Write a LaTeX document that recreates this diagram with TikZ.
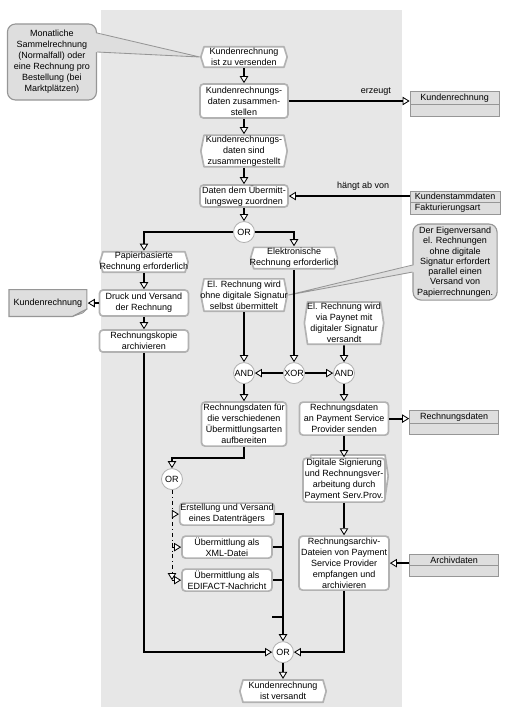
\documentclass[tikz,border=0pt]{standalone}
\usepackage{fontspec}
\setmainfont{Liberation Sans}
\usepackage{tikz}
\usetikzlibrary{shapes, arrows.meta, positioning}

\definecolor{bggray}{RGB}{231,231,231}
\definecolor{boxline}{RGB}{178,178,178}
\definecolor{notefill}{RGB}{222,222,222}
\definecolor{noteline}{RGB}{150,150,150}
\definecolor{folddark}{RGB}{196,196,196}

\begin{document}
\begin{tikzpicture}[x=0.025cm, y=-0.025cm]
	\tikzstyle{every node}=[font=\fontsize{6.4}{7.8}\selectfont, align=center]
	\tikzstyle{event}=[rectangle, inner xsep=0pt, inner ysep=1pt,
		minimum width=2.2cm, minimum height=0.55cm,
		path picture={
			\filldraw[fill=white, draw=boxline, line width=1.2pt, line join=round]
			([xshift=0.6pt]path picture bounding box.west)
			-- ([xshift=0.1cm, yshift=-0.6pt]path picture bounding box.north west)
			-- ([xshift=-0.1cm, yshift=-0.6pt]path picture bounding box.north east)
			-- ([xshift=-0.6pt]path picture bounding box.east)
			-- ([xshift=-0.1cm, yshift=0.6pt]path picture bounding box.south east)
			-- ([xshift=0.1cm, yshift=0.6pt]path picture bounding box.south west)
			-- cycle;
		}]
	\tikzstyle{func}=[rectangle, rounded corners=2.5pt, draw=boxline, line width=1.2pt,
		fill=white, inner sep=0.5pt, minimum width=2.2cm, minimum height=0.55cm]
	\tikzstyle{conn}=[circle, draw=boxline, line width=0.6pt, fill=white,
		inner sep=0pt, minimum size=0.525cm]
	\tikzstyle{info}=[rectangle split, rectangle split parts=2,
		rectangle split empty part height=0.5pt, draw=noteline, fill=notefill,
		line width=0.6pt, inner ysep=1.2pt, minimum width=2.225cm]
	\tikzstyle{note}=[rectangle, rounded corners=0.2cm, draw=noteline, fill=notefill,
		line width=0.8pt, inner sep=1pt, minimum width=2.225cm, minimum height=1.9cm]
	\tikzstyle{doc}=[rectangle, minimum width=1.975cm, minimum height=0.7cm,
		path picture={
			\filldraw[fill=notefill, draw=noteline, line width=0.8pt]
			([shift={(0.4pt,-0.4pt)}]path picture bounding box.north west)
			-- ([shift={(-0.4pt,-0.4pt)}]path picture bounding box.north east)
			-- ([shift={(-0.4pt,0.2cm)}]path picture bounding box.south east)
			-- ([shift={(-0.375cm,0.4pt)}]path picture bounding box.south east)
			-- ([shift={(0.4pt,0.4pt)}]path picture bounding box.south west)
			-- cycle;
			\filldraw[fill=folddark, draw=noteline, line width=0.5pt]
			([shift={(-0.4pt,0.2cm)}]path picture bounding box.south east)
			-- ([shift={(-0.375cm,0.4pt)}]path picture bounding box.south east)
			-- ([shift={(-0.12cm,0.1cm)}]path picture bounding box.south east)
			-- cycle;
		}]
	\tikzstyle{flow}=[draw, line width=1.3pt,
		-{Triangle[fill=white, length=5pt, width=6pt, line width=0.6pt]}]
	\tikzstyle{wire}=[draw, line width=1.3pt]
	\tikzstyle{branch}=[draw, line width=0.6pt, dash dot,
		-{Triangle[fill=white, length=5pt, width=6pt, line width=0.6pt]}]

	\useasboundingbox (0,0) rectangle (507,711);
	\fill[bggray] (101,10) rectangle (402,707);

	% main column
	\node[event] (start) at (244,57) {Kundenrechnung\\ist zu versenden};
	\node[note, left of=start, node distance=4.8cm, yshift=-0.125cm] (hinweisA) {
		Monatliche\\Sammelrechnung\\(Normalfall) oder\\eine Rechnung pro\\Bestellung (bei\\Marktplätzen)
	};
	\node[func, below of=start, node distance=1.1cm, minimum height=0.85cm] (daten) {
		Kundenrechnungs-\\daten zusammen-\\stellen
	};
	\node[info, right of=daten, node distance=5.2625cm, yshift=-0.075cm] (rechnungA) {
		\nodepart{one} Kundenrechnung
		\nodepart{two}
	};
	\node[event, below of=daten, node distance=1.25cm, minimum height=0.825cm] (fertig) {
		Kundenrechnungs-\\daten sind\\zusammengestellt
	};
	\node[func, below of=fertig, node distance=1.125cm] (zuordnen) {
		Daten dem Übermitt-\\lungsweg zuordnen
	};
	\node[info, rectangle split empty part height=6pt, rectangle split part align=left,
		right of=zuordnen, node distance=5.275cm, yshift=-0.175cm] (stamm) {
		\nodepart{one} Kundenstammdaten
		\nodepart{two} Fakturierungsart
	};
	\node[conn, below of=zuordnen, node distance=0.9cm] (or1) {OR};

	% papierbasiert
	\node[event, below of=or1, node distance=0.75cm, xshift=-2.5cm, minimum width=2.25cm] (papier) {
		Papierbasierte\\Rechnung erforderlich
	};
	\node[func, below of=papier, node distance=1.025cm, minimum width=2.225cm, minimum height=0.65cm] (druck) {
		Druck und Versand\\der Rechnung
	};
	\node[doc, left of=druck, node distance=2.4cm] (rechnungB) {Kundenrechnung};
	\node[func, below of=druck, node distance=0.95cm, minimum width=2.225cm] (kopie) {
		Rechnungskopie\\archivieren
	};

	% elektronisch
	\node[event, below of=or1, node distance=0.65cm, xshift=1.25cm, minimum width=2.15cm, minimum height=0.575cm] (elektr) {
		Elektronische\\Rechnung erforderlich
	};
	\node[note, right of=elektr, node distance=4.025cm, yshift=-0.1cm, minimum width=2.1cm,
		font=\fontsize{6.4}{7.3}\selectfont] (hinweisB) {
		Der Eigenversand\\el. Rechnungen\\ohne digitale\\Signatur erfordert\\parallel einen\\Versand von\\Papierrechnungen.
	};
	\node[event, below of=elektr, node distance=0.925cm, xshift=-1.25cm, minimum height=0.85cm] (ohne) {
		El. Rechnung wird\\ohne digitale Signatur\\selbst übermittelt
	};
	\node[event, below of=ohne, node distance=0.7cm, xshift=2.5cm, minimum width=2.025cm, minimum height=1.1cm] (paynet) {
		El. Rechnung wird\\via Paynet mit\\digitaler Signatur\\versandt
	};
	\node[conn, below of=elektr, node distance=2.875cm] (xor) {XOR};
	\node[conn, left of=xor, node distance=1.25cm] (andl) {AND};
	\node[conn, right of=xor, node distance=1.25cm] (andr) {AND};

	\node[func, below of=andl, node distance=1.275cm, minimum width=2.125cm, minimum height=1.1cm] (aufb) {
		Rechnungsdaten für\\die verschiedenen\\Übermittlungsarten\\aufbereiten
	};
	\node[func, below of=andr, node distance=1.1375cm, minimum width=2.225cm, minimum height=0.825cm] (senden) {
		Rechnungsdaten\\an Payment Service\\Provider senden
	};
	\node[info, right of=senden, node distance=2.75cm, yshift=-0.1cm] (daten2) {
		\nodepart{one} Rechnungsdaten
		\nodepart{two}
	};
	\node[event, below of=senden, node distance=1.5375cm, xshift=0.1cm, yshift=0.1cm,
		minimum width=2.05cm, minimum height=1.1cm] (pievent) {};
	\node[func, below of=pievent, node distance=0.1cm, xshift=-0.1cm,
		minimum width=2.05cm, minimum height=1.1cm] (pi) {
		Digitale Signierung\\und Rechnungsver-\\arbeitung durch\\Payment Serv.Prov.
	};
	\node[func, below of=pi, node distance=2.075cm, minimum width=2.25cm, minimum height=1.35cm] (archiv) {
		Rechnungsarchiv-\\Dateien von Payment\\Service Provider\\empfangen und\\archivieren
	};
	\node[info, right of=archiv, node distance=2.75cm, yshift=-0.0625cm] (archivdaten) {
		\nodepart{one} Archivdaten
		\nodepart{two}
	};

	% Übermittlungsarten
	\node[conn, below of=aufb, node distance=1.375cm, xshift=-1.8cm] (or2) {OR};
	\node[func, below of=or2, node distance=0.875cm, xshift=1.375cm, minimum width=2.25cm] (traeger) {
		Erstellung und Versand\\eines Datenträgers
	};
	\node[func, below of=traeger, node distance=0.825cm, minimum width=2.25cm] (xml) {
		Übermittlung als\\XML-Datei
	};
	\node[func, below of=xml, node distance=0.825cm, minimum width=2.25cm] (edifact) {
		Übermittlung als\\EDIFACT-Nachricht
	};
	\node[conn, below of=edifact, node distance=1.8cm, xshift=1.4cm] (or3) {OR};
	\node[event, below of=or3, node distance=0.975cm, minimum height=0.6cm] (ende) {
		Kundenrechnung\\ist versandt
	};

	% callouts
	\fill[notefill] ([shift={(-1.5pt,0.725cm)}]hinweisA.east) -- (start.west)
		-- ([shift={(-1.5pt,0.25cm)}]hinweisA.east) -- cycle;
	\draw[noteline, line width=0.6pt] ([yshift=0.725cm]hinweisA.east) -- (start.west)
		-- ([yshift=0.25cm]hinweisA.east);
	\fill[notefill] ([shift={(1.5pt,-0.075cm)}]hinweisB.west) -- (ohne.east)
		-- ([shift={(1.5pt,-0.25cm)}]hinweisB.west) -- cycle;
	\draw[noteline, line width=0.6pt] ([yshift=-0.075cm]hinweisB.west) -- (ohne.east)
		-- ([yshift=-0.25cm]hinweisB.west);

	% connectors
	\draw[flow] (start) -- (daten);
	\draw[flow] (daten.east) -- (daten.east -| rechnungA.west) node[pos=0.72, above] {erzeugt};
	\draw[flow] (daten) -- (fertig);
	\draw[flow] (fertig) -- (zuordnen);
	\draw[flow] (stamm.west |- zuordnen.east) -- (zuordnen.east) node[pos=0.385, above] {hängt ab von};
	\draw[flow] (zuordnen) -- (or1);
	\draw[flow] (or1.west) -| (papier.north);
	\draw[flow] (or1.east) -| (elektr.north);
	\draw[flow] (papier) -- (druck);
	\draw[flow] (druck) -- (kopie);
	\draw[flow] (druck.west) -- (rechnungB.east);
	\draw[flow] (kopie.south) |- (or3.west);
	\draw[flow] (elektr) -- (xor);
	\draw[flow] (ohne) -- (andl);
	\draw[flow] (paynet) -- (andr);
	\draw[flow] (xor) -- (andl);
	\draw[flow] (xor) -- (andr);
	\draw[flow] (andl) -- (aufb);
	\draw[flow] (andr) -- (senden);
	\draw[flow] (senden.east) -- (senden.east -| daten2.west);
	\draw[flow] (senden) -- (pi);
	\draw[flow] (pi) -- (archiv);
	\draw[flow] (archivdaten.west |- archiv.east) -- (archiv.east);
	\draw[flow] (archiv.south) |- (or3.east);
	\draw[flow] (aufb.south) -- ++(0,11) -| (or2.north);
	\draw[branch] (or2.south) -- (or2 |- edifact.west);
	\draw[branch] (or2 |- traeger.west) -- (traeger.west);
	\draw[branch] (or2 |- xml.west) -- (xml.west);
	\draw[branch] (or2 |- edifact.west) -- (edifact.west);
	\draw[flow] (traeger.east) -| (or3.north);
	\draw[wire] (xml.east) -- (xml.east -| or3.north);
	\draw[wire] (edifact.east) -- (edifact.east -| or3.north);
	\draw[wire] ([yshift=0.6cm]or3.north) -- ++(-11,0);
	\draw[flow] (or3) -- (ende);

\end{tikzpicture}
\end{document}
